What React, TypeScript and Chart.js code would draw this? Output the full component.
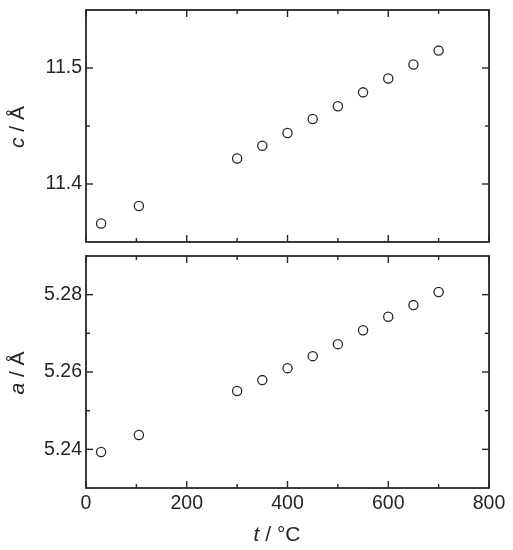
import React, { useEffect, useRef } from "react";
import { Chart, registerables } from "chart.js";

Chart.register(...registerables);

// ---- data ----
const temperatures = [30, 105, 300, 350, 400, 450, 500, 550, 600, 650, 700];
const cValues = [11.366, 11.381, 11.422, 11.433, 11.444, 11.456, 11.467, 11.479, 11.491, 11.503, 11.515];
const aValues = [5.2393, 5.2437, 5.2551, 5.2579, 5.261, 5.2641, 5.2672, 5.2708, 5.2743, 5.2773, 5.2807];

const xMajorTicks = [0, 200, 400, 600, 800];
const xMinorTicks = [100, 300, 500, 700];
const cMajorTicks = [11.4, 11.5];
const cMinorTicks = [11.45];
const aMajorTicks = [5.24, 5.26, 5.28];
const aMinorTicks = [5.25, 5.27];

const xRange = [0, 800];
const cRange = [11.35, 11.55];
const aRange = [5.23, 5.29];

const FONT = "'Liberation Sans', Arial, Helvetica, sans-serif";
const INK = "#262626";

function drawMixed(ctx: CanvasRenderingContext2D, parts: { text: string; italic: boolean }[], size: number) {
  let total = 0;
  const widths: number[] = [];
  for (const p of parts) {
    ctx.font = `${p.italic ? "italic " : ""}${size}px ${FONT}`;
    const w = ctx.measureText(p.text).width;
    widths.push(w);
    total += w;
  }
  let x = -total / 2;
  parts.forEach((p, i) => {
    ctx.font = `${p.italic ? "italic " : ""}${size}px ${FONT}`;
    ctx.textAlign = "left";
    ctx.textBaseline = "middle";
    ctx.fillText(p.text, x, 0);
    x += widths[i];
  });
}

function framePlugin(
  yMajor: number[],
  yMinor: number[],
  yTitle: { text: string; italic: boolean }[],
  yTitlePos: { x: number },
  xTitle: null | { parts: { text: string; italic: boolean }[]; x: number; y: number }
) {
  return {
    id: "frameTicks",
    afterDraw(chart: any) {
      const { ctx, chartArea } = chart;
      const { left, right, top, bottom } = chartArea;
      const xs = chart.scales.x;
      const ys = chart.scales.y;
      ctx.save();
      ctx.strokeStyle = INK;
      ctx.lineWidth = 1.8;
      ctx.strokeRect(left, top, right - left, bottom - top);
      ctx.lineWidth = 1.4;
      const line = (x1: number, y1: number, x2: number, y2: number) => {
        ctx.beginPath();
        ctx.moveTo(x1, y1);
        ctx.lineTo(x2, y2);
        ctx.stroke();
      };
      const MAJ = 7;
      const MIN = 4;
      for (const v of xMajorTicks) {
        const px = xs.getPixelForValue(v);
        line(px, bottom, px, bottom - MAJ);
        line(px, top, px, top + MAJ);
      }
      for (const v of xMinorTicks) {
        const px = xs.getPixelForValue(v);
        line(px, bottom, px, bottom - MIN);
        line(px, top, px, top + MIN);
      }
      for (const v of yMajor) {
        const py = ys.getPixelForValue(v);
        line(left, py, left + MAJ, py);
        line(right, py, right - MAJ, py);
      }
      for (const v of yMinor) {
        const py = ys.getPixelForValue(v);
        line(left, py, left + MIN, py);
        line(right, py, right - MIN, py);
      }
      ctx.fillStyle = INK;
      ctx.save();
      ctx.translate(yTitlePos.x, (top + bottom) / 2 + 1);
      ctx.rotate(-Math.PI / 2);
      drawMixed(ctx, yTitle, 21);
      ctx.restore();
      if (xTitle) {
        ctx.save();
        ctx.translate(xTitle.x, xTitle.y);
        drawMixed(ctx, xTitle.parts, 21);
        ctx.restore();
      }
      ctx.restore();
    },
  };
}

function makeChart(
  canvas: HTMLCanvasElement,
  values: number[],
  yRange: number[],
  yMajor: number[],
  yMinor: number[],
  decimals: number,
  padding: { top: number; bottom: number },
  showX: boolean,
  yTitle: { text: string; italic: boolean }[],
  xTitle: null | { parts: { text: string; italic: boolean }[]; x: number; y: number }
) {
  return new Chart(canvas, {
    type: "scatter",
    data: {
      datasets: [
        {
          data: temperatures.map((t, i) => ({ x: t, y: values[i] })),
          pointStyle: "circle",
          pointRadius: 4.6,
          pointHoverRadius: 4.6,
          pointBorderWidth: 1.3,
          pointBorderColor: INK,
          pointBackgroundColor: "rgba(255,255,255,0)",
          showLine: false,
        },
      ],
    },
    options: {
      animation: false,
      responsive: false,
      devicePixelRatio: 1,
      layout: { padding: { left: 0, right: 24, top: padding.top, bottom: padding.bottom } },
      plugins: { legend: { display: false }, tooltip: { enabled: false } },
      scales: {
        x: {
          type: "linear",
          min: xRange[0],
          max: xRange[1],
          display: showX,
          grid: { display: false, drawTicks: false },
          border: { display: false },
          afterBuildTicks: (scale: any) => {
            scale.ticks = xMajorTicks.map((v) => ({ value: v }));
          },
          afterFit: (scale: any) => {
            scale.height = showX ? 62 : 0;
            scale.paddingLeft = 0;
            scale.paddingRight = 0;
          },
          ticks: {
            padding: 4,
            color: INK,
            font: { family: FONT, size: 19.5 },
            maxRotation: 0,
            autoSkip: false,
            callback: (v: any) => String(v),
          },
        },
        y: {
          type: "linear",
          min: yRange[0],
          max: yRange[1],
          grid: { display: false, drawTicks: false },
          border: { display: false },
          afterBuildTicks: (scale: any) => {
            scale.ticks = yMajor.map((v) => ({ value: v }));
          },
          afterFit: (scale: any) => {
            scale.width = 86;
            scale.paddingTop = 0;
            scale.paddingBottom = 0;
          },
          ticks: {
            padding: 4,
            color: INK,
            font: { family: FONT, size: 19.5 },
            autoSkip: false,
            callback: (v: any) => Number(v).toFixed(decimals),
          },
        },
      },
    },
    plugins: [framePlugin(yMajor, yMinor, yTitle, { x: 18 }, xTitle)],
  } as any);
}

export default function App() {
  const topRef = useRef<HTMLCanvasElement>(null);
  const botRef = useRef<HTMLCanvasElement>(null);

  useEffect(() => {
    const c1 = makeChart(
      topRef.current!,
      cValues,
      cRange,
      cMajorTicks,
      cMinorTicks,
      1,
      { top: 10, bottom: 8 },
      false,
      [
        { text: "c", italic: true },
        { text: " / Å", italic: false },
      ],
      null
    );
    const c2 = makeChart(
      botRef.current!,
      aValues,
      aRange,
      aMajorTicks,
      aMinorTicks,
      2,
      { top: 6, bottom: 0 },
      true,
      [
        { text: "a", italic: true },
        { text: " / Å", italic: false },
      ],
      {
        parts: [
          { text: "t", italic: true },
          { text: " / °C", italic: false },
        ],
        x: 277,
        y: 285,
      }
    );
    return () => {
      c1.destroy();
      c2.destroy();
    };
  }, []);

  return (
    <div style={{ position: "absolute", left: 0, top: 0, width: 513, height: 550, background: "#fff" }}>
      <canvas ref={topRef} width={513} height={250} style={{ position: "absolute", left: 0, top: 0 }} />
      <canvas ref={botRef} width={513} height={300} style={{ position: "absolute", left: 0, top: 250 }} />
    </div>
  );
}
